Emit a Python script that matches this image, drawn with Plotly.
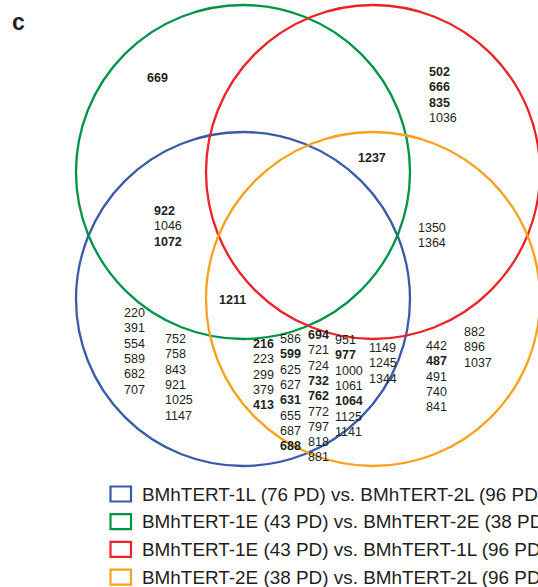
import plotly.graph_objects as go

# ---- data: genes (ids) in each Venn region ----
green_only = [669]
red_only = [502, 666, 835, 1036]
green_red = [1237]
green_blue = [922, 1046, 1072]
red_orange = [1350, 1364]
green_blue_orange = [1211]
blue_only_a = [220, 391, 554, 589, 682, 707]
blue_only_b = [752, 758, 843, 921, 1025, 1147]
blue_orange_a = [216, 223, 299, 379, 413]
blue_orange_b = [586, 599, 625, 627, 631, 655, 687, 688]
blue_orange_c = [694, 721, 724, 732, 762, 772, 797, 818, 881]
blue_orange_d = [951, 977, 1000, 1061, 1064, 1125, 1141]
blue_orange_e = [1149, 1245, 1344]
orange_only_a = [442, 487, 491, 740, 841]
orange_only_b = [882, 896, 1037]
bold_ids = [669, 502, 666, 835, 1237, 922, 1072, 1211, 216, 413, 599, 631,
            688, 694, 732, 762, 977, 1064, 487]

set_labels = ["BMhTERT-1L (76 PD) vs. BMhTERT-2L (96 PD)",
              "BMhTERT-1E (43 PD) vs. BMhTERT-2E (38 PD)",
              "BMhTERT-1E (43 PD) vs. BMhTERT-1L (96 PD)",
              "BMhTERT-2E (38 PD) vs. BMhTERT-2L (96 PD)"]
set_colors = ["#3A5BA8", "#009447", "#EC2327", "#F9A11B"]

# ---- layout geometry (pixels) ----
W, H = 538, 587
R = 167
centers = [(243, 299), (243, 172), (373, 172), (373, 299)]  # blue, green, red, orange
FONT = "Arial, Liberation Sans, Helvetica, sans-serif"
TXT = "#231F20"
LINE = 15.3

fig = go.Figure()
fig.add_trace(go.Scatter(x=[0, W], y=[0, H], mode="markers",
                         marker=dict(opacity=0), hoverinfo="skip", showlegend=False))

shapes = []
for (cx, cy), col in zip(centers, set_colors):
    shapes.append(dict(type="circle", xref="x", yref="y",
                       x0=cx - R, x1=cx + R, y0=cy - R, y1=cy + R,
                       line=dict(color=col, width=2.3)))

annotations = []
groups = [
    (green_only, 145, 78),
    (red_only, 427, 72),
    (green_red, 356, 158),
    (green_blue, 152, 211),
    (red_orange, 416, 228),
    (green_blue_orange, 217, 300),
    (blue_only_a, 122, 313),
    (blue_only_b, 163, 339),
    (blue_orange_a, 251, 344),
    (blue_orange_b, 278, 339),
    (blue_orange_c, 306, 335),
    (blue_orange_d, 333, 340),
    (blue_orange_e, 367, 348),
    (orange_only_a, 424, 346),
    (orange_only_b, 462, 332),
]
for ids, x0, y0 in groups:
    for i, v in enumerate(ids):
        t = f"<b>{v}</b>" if v in bold_ids else str(v)
        annotations.append(dict(x=x0, y=y0 + i * LINE, xref="x", yref="y",
                                text=t, showarrow=False, xanchor="left", yanchor="middle",
                                font=dict(family=FONT, size=12.5, color=TXT)))

# panel letter
annotations.append(dict(x=18.5, y=21.5, xref="x", yref="y", text="<b>c</b>", showarrow=False,
                        xanchor="center", yanchor="middle",
                        font=dict(family=FONT, size=23, color=TXT)))

# legend
for i, (lab, col) in enumerate(zip(set_labels, set_colors)):
    yc = 494 + i * 27.7
    shapes.append(dict(type="rect", xref="x", yref="y", x0=110.5, x1=131,
                       y0=yc - 7.5, y1=yc + 7.5, line=dict(color=col, width=2.2)))
    annotations.append(dict(x=140, y=yc, xref="x", yref="y", text=lab, showarrow=False,
                            xanchor="left", yanchor="middle",
                            font=dict(family=FONT, size=18.9, color=TXT)))

fig.update_layout(
    width=W, height=H, margin=dict(l=0, r=0, t=0, b=0),
    paper_bgcolor="white", plot_bgcolor="white",
    xaxis=dict(range=[0, W], visible=False, fixedrange=True),
    yaxis=dict(range=[H, 0], visible=False, fixedrange=True),
    shapes=shapes, annotations=annotations, showlegend=False,
)
fig.write_html("out.html", config={"displayModeBar": False},
               post_script="document.body.style.margin='0px';document.body.style.overflow='hidden';")
